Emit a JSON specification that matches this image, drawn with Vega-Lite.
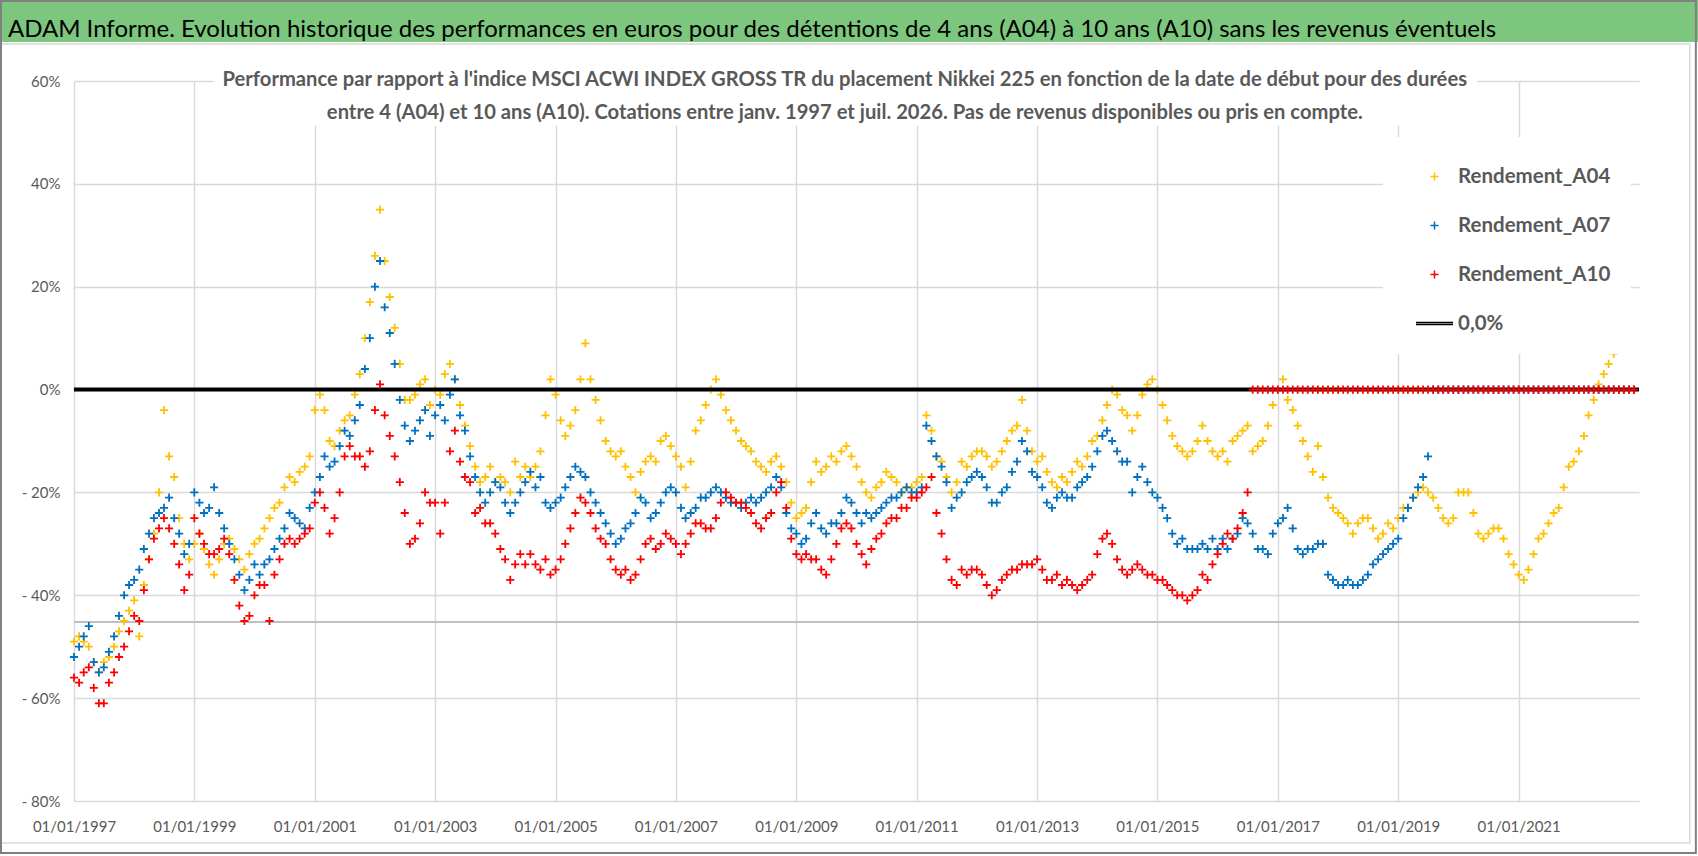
{
  "$schema": "https://vega.github.io/schema/vega-lite/v6.json",
  "description": "Performance relative Nikkei 225 vs MSCI ACWI, détentions 4, 7 et 10 ans",
  "width": 1565,
  "height": 720,
  "autosize": {"type": "none"},
  "padding": {"left": 74, "top": 81, "right": 59, "bottom": 55},
  "background": "white",
  "config": {
    "font": "Lato",
    "view": {"stroke": null},
    "axis": {
      "title": null,
      "grid": true,
      "gridColor": "#D9D9D9",
      "gridWidth": 1.5,
      "domain": false,
      "ticks": false,
      "labelColor": "#595959",
      "labelFont": "Lato",
      "labelFontSize": 15,
      "labelOverlap": false
    },
    "axisX": {
      "labelPadding": 18,
      "labelAlign": "center",
      "labelBaseline": "top",
      "labelExpr": "utcFormat(datum.value, '%d/%m/%Y')"
    },
    "axisY": {
      "labelPadding": 14,
      "labelExpr": "datum.value < 0 ? '- ' + format(-datum.value, 'd') + '%' : format(datum.value, 'd') + '%'"
    },
    "legend": {
      "orient": "none",
      "legendX": 1309,
      "legendY": 56,
      "fillColor": "white",
      "padding": 20,
      "symbolSize": 1369,
      "symbolOffset": 12,
      "labelOffset": 4,
      "rowPadding": 19,
      "labelFont": "Lato",
      "labelFontSize": 20.5,
      "labelFontWeight": "bold",
      "labelColor": "#595959",
      "labelLimit": 400
    }
  },
  "data": {
    "values": [
      {"date": "1997-01", "A04": -49, "A07": -52, "A10": -56},
      {"date": "1997-02", "A04": -48, "A07": -50, "A10": -57},
      {"date": "1997-03", "A04": -49, "A07": -48, "A10": -55},
      {"date": "1997-04", "A04": -50, "A07": -46, "A10": -54},
      {"date": "1997-05", "A04": -53, "A07": -53, "A10": -58},
      {"date": "1997-06", "A04": -55, "A07": -55, "A10": -61},
      {"date": "1997-07", "A04": -53, "A07": -54, "A10": -61},
      {"date": "1997-08", "A04": -52, "A07": -51, "A10": -57},
      {"date": "1997-09", "A04": -50, "A07": -48, "A10": -55},
      {"date": "1997-10", "A04": -47, "A07": -44, "A10": -52},
      {"date": "1997-11", "A04": -45, "A07": -40, "A10": -50},
      {"date": "1997-12", "A04": -43, "A07": -38, "A10": -47},
      {"date": "1998-01", "A04": -41, "A07": -37, "A10": -44},
      {"date": "1998-02", "A04": -48, "A07": -35, "A10": -45},
      {"date": "1998-03", "A04": -38, "A07": -31, "A10": -39},
      {"date": "1998-04", "A04": -33, "A07": -28, "A10": -33},
      {"date": "1998-05", "A04": -28, "A07": -25, "A10": -29},
      {"date": "1998-06", "A04": -20, "A07": -24, "A10": -27},
      {"date": "1998-07", "A04": -4, "A07": -23, "A10": -25},
      {"date": "1998-08", "A04": -13, "A07": -21, "A10": -27},
      {"date": "1998-09", "A04": -17, "A07": -25, "A10": -30},
      {"date": "1998-10", "A04": -25, "A07": -28, "A10": -34},
      {"date": "1998-11", "A04": -30, "A07": -32, "A10": -39},
      {"date": "1998-12", "A04": -33, "A07": -30, "A10": -36},
      {"date": "1999-01", "A04": -30, "A07": -20, "A10": -25},
      {"date": "1999-02", "A04": -28, "A07": -22, "A10": -28},
      {"date": "1999-03", "A04": -31, "A07": -24, "A10": -30},
      {"date": "1999-04", "A04": -34, "A07": -23, "A10": -32},
      {"date": "1999-05", "A04": -36, "A07": -19, "A10": -32},
      {"date": "1999-06", "A04": -33, "A07": -24, "A10": -31},
      {"date": "1999-07", "A04": -30, "A07": -27, "A10": -29},
      {"date": "1999-08", "A04": -29, "A07": -30, "A10": -32},
      {"date": "1999-09", "A04": -31, "A07": -33, "A10": -37},
      {"date": "1999-10", "A04": -33, "A07": -36, "A10": -42},
      {"date": "1999-11", "A04": -35, "A07": -39, "A10": -45},
      {"date": "1999-12", "A04": -32, "A07": -37, "A10": -44},
      {"date": "2000-01", "A04": -30, "A07": -34, "A10": -40},
      {"date": "2000-02", "A04": -29, "A07": -36, "A10": -38},
      {"date": "2000-03", "A04": -27, "A07": -34, "A10": -38},
      {"date": "2000-04", "A04": -25, "A07": -33, "A10": -45},
      {"date": "2000-05", "A04": -23, "A07": -31, "A10": -36},
      {"date": "2000-06", "A04": -22, "A07": -29, "A10": -33},
      {"date": "2000-07", "A04": -19, "A07": -27, "A10": -30},
      {"date": "2000-08", "A04": -17, "A07": -24, "A10": -29},
      {"date": "2000-09", "A04": -18, "A07": -25, "A10": -30},
      {"date": "2000-10", "A04": -16, "A07": -26, "A10": -29},
      {"date": "2000-11", "A04": -15, "A07": -27, "A10": -28},
      {"date": "2000-12", "A04": -13, "A07": -23, "A10": -27},
      {"date": "2001-01", "A04": -4, "A07": -20, "A10": -22},
      {"date": "2001-02", "A04": -1, "A07": -17, "A10": -20},
      {"date": "2001-03", "A04": -4, "A07": -13, "A10": -23},
      {"date": "2001-04", "A04": -10, "A07": -15, "A10": -28},
      {"date": "2001-05", "A04": -11, "A07": -14, "A10": -25},
      {"date": "2001-06", "A04": -8, "A07": -11, "A10": -20},
      {"date": "2001-07", "A04": -6, "A07": -8, "A10": -13},
      {"date": "2001-08", "A04": -5, "A07": -9, "A10": -11},
      {"date": "2001-09", "A04": -1, "A07": -6, "A10": -13},
      {"date": "2001-10", "A04": 3, "A07": -3, "A10": -13},
      {"date": "2001-11", "A04": 10, "A07": 4, "A10": -15},
      {"date": "2001-12", "A04": 17, "A07": 10, "A10": -12},
      {"date": "2002-01", "A04": 26, "A07": 20, "A10": -4},
      {"date": "2002-02", "A04": 35, "A07": 25, "A10": 1},
      {"date": "2002-03", "A04": 25, "A07": 16, "A10": -5},
      {"date": "2002-04", "A04": 18, "A07": 11, "A10": -9},
      {"date": "2002-05", "A04": 12, "A07": 5, "A10": -13},
      {"date": "2002-06", "A04": 5, "A07": -2, "A10": -18},
      {"date": "2002-07", "A04": -2, "A07": -7, "A10": -24},
      {"date": "2002-08", "A04": -2, "A07": -10, "A10": -30},
      {"date": "2002-09", "A04": -1, "A07": -8, "A10": -29},
      {"date": "2002-10", "A04": 1, "A07": -6, "A10": -26},
      {"date": "2002-11", "A04": 2, "A07": -4, "A10": -20},
      {"date": "2002-12", "A04": -3, "A07": -9, "A10": -22},
      {"date": "2003-01", "A04": 0, "A07": -5, "A10": -22},
      {"date": "2003-02", "A04": -1, "A07": -3, "A10": -28},
      {"date": "2003-03", "A04": 3, "A07": -6, "A10": -22},
      {"date": "2003-04", "A04": 5, "A07": -1, "A10": -12},
      {"date": "2003-05", "A04": 2, "A07": 2, "A10": -8},
      {"date": "2003-06", "A04": -3, "A07": -5, "A10": -14},
      {"date": "2003-07", "A04": -7, "A07": -8, "A10": -17},
      {"date": "2003-08", "A04": -11, "A07": -13, "A10": -18},
      {"date": "2003-09", "A04": -15, "A07": -17, "A10": -24},
      {"date": "2003-10", "A04": -18, "A07": -20, "A10": -23},
      {"date": "2003-11", "A04": -17, "A07": -22, "A10": -26},
      {"date": "2003-12", "A04": -15, "A07": -20, "A10": -26},
      {"date": "2004-01", "A04": -18, "A07": -18, "A10": -28},
      {"date": "2004-02", "A04": -17, "A07": -19, "A10": -31},
      {"date": "2004-03", "A04": -18, "A07": -22, "A10": -33},
      {"date": "2004-04", "A04": -20, "A07": -24, "A10": -37},
      {"date": "2004-05", "A04": -14, "A07": -22, "A10": -34},
      {"date": "2004-06", "A04": -17, "A07": -20, "A10": -32},
      {"date": "2004-07", "A04": -15, "A07": -18, "A10": -34},
      {"date": "2004-08", "A04": -17, "A07": -16, "A10": -32},
      {"date": "2004-09", "A04": -15, "A07": -19, "A10": -34},
      {"date": "2004-10", "A04": -12, "A07": -17, "A10": -35},
      {"date": "2004-11", "A04": -5, "A07": -22, "A10": -33},
      {"date": "2004-12", "A04": 2, "A07": -23, "A10": -36},
      {"date": "2005-01", "A04": -1, "A07": -22, "A10": -35},
      {"date": "2005-02", "A04": -6, "A07": -21, "A10": -33},
      {"date": "2005-03", "A04": -9, "A07": -19, "A10": -30},
      {"date": "2005-04", "A04": -7, "A07": -17, "A10": -27},
      {"date": "2005-05", "A04": -4, "A07": -15, "A10": -24},
      {"date": "2005-06", "A04": 2, "A07": -16, "A10": -21},
      {"date": "2005-07", "A04": 9, "A07": -17, "A10": -22},
      {"date": "2005-08", "A04": 2, "A07": -20, "A10": -24},
      {"date": "2005-09", "A04": -2, "A07": -22, "A10": -27},
      {"date": "2005-10", "A04": -6, "A07": -24, "A10": -29},
      {"date": "2005-11", "A04": -10, "A07": -26, "A10": -30},
      {"date": "2005-12", "A04": -12, "A07": -28, "A10": -33},
      {"date": "2006-01", "A04": -13, "A07": -30, "A10": -35},
      {"date": "2006-02", "A04": -12, "A07": -29, "A10": -36},
      {"date": "2006-03", "A04": -15, "A07": -27, "A10": -35},
      {"date": "2006-04", "A04": -17, "A07": -26, "A10": -37},
      {"date": "2006-05", "A04": -20, "A07": -24, "A10": -36},
      {"date": "2006-06", "A04": -16, "A07": -21, "A10": -33},
      {"date": "2006-07", "A04": -14, "A07": -22, "A10": -30},
      {"date": "2006-08", "A04": -13, "A07": -25, "A10": -29},
      {"date": "2006-09", "A04": -14, "A07": -24, "A10": -31},
      {"date": "2006-10", "A04": -10, "A07": -22, "A10": -30},
      {"date": "2006-11", "A04": -9, "A07": -20, "A10": -28},
      {"date": "2006-12", "A04": -11, "A07": -19, "A10": -29},
      {"date": "2007-01", "A04": -13, "A07": -20, "A10": -30},
      {"date": "2007-02", "A04": -15, "A07": -23, "A10": -32},
      {"date": "2007-03", "A04": -19, "A07": -25, "A10": -30},
      {"date": "2007-04", "A04": -14, "A07": -24, "A10": -28},
      {"date": "2007-05", "A04": -8, "A07": -23, "A10": -26},
      {"date": "2007-06", "A04": -6, "A07": -21, "A10": -26},
      {"date": "2007-07", "A04": -3, "A07": -21, "A10": -27},
      {"date": "2007-08", "A04": 0, "A07": -20, "A10": -27},
      {"date": "2007-09", "A04": 2, "A07": -19, "A10": -25},
      {"date": "2007-10", "A04": -1, "A07": -20, "A10": -22},
      {"date": "2007-11", "A04": -4, "A07": -21, "A10": -20},
      {"date": "2007-12", "A04": -6, "A07": -22, "A10": -21},
      {"date": "2008-01", "A04": -8, "A07": -22, "A10": -22},
      {"date": "2008-02", "A04": -10, "A07": -23, "A10": -22},
      {"date": "2008-03", "A04": -11, "A07": -22, "A10": -23},
      {"date": "2008-04", "A04": -12, "A07": -21, "A10": -24},
      {"date": "2008-05", "A04": -14, "A07": -22, "A10": -26},
      {"date": "2008-06", "A04": -15, "A07": -21, "A10": -27},
      {"date": "2008-07", "A04": -16, "A07": -20, "A10": -25},
      {"date": "2008-08", "A04": -14, "A07": -19, "A10": -24},
      {"date": "2008-09", "A04": -13, "A07": -17, "A10": -20},
      {"date": "2008-10", "A04": -15, "A07": -19, "A10": -18},
      {"date": "2008-11", "A04": -18, "A07": -24, "A10": -23},
      {"date": "2008-12", "A04": -22, "A07": -27, "A10": -29},
      {"date": "2009-01", "A04": -25, "A07": -28, "A10": -32},
      {"date": "2009-02", "A04": -24, "A07": -30, "A10": -33},
      {"date": "2009-03", "A04": -23, "A07": -29, "A10": -32},
      {"date": "2009-04", "A04": -18, "A07": -26, "A10": -33},
      {"date": "2009-05", "A04": -14, "A07": -24, "A10": -33},
      {"date": "2009-06", "A04": -16, "A07": -27, "A10": -35},
      {"date": "2009-07", "A04": -15, "A07": -28, "A10": -36},
      {"date": "2009-08", "A04": -13, "A07": -26, "A10": -33},
      {"date": "2009-09", "A04": -14, "A07": -26, "A10": -30},
      {"date": "2009-10", "A04": -12, "A07": -24, "A10": -27},
      {"date": "2009-11", "A04": -11, "A07": -21, "A10": -26},
      {"date": "2009-12", "A04": -13, "A07": -22, "A10": -27},
      {"date": "2010-01", "A04": -15, "A07": -24, "A10": -30},
      {"date": "2010-02", "A04": -18, "A07": -26, "A10": -32},
      {"date": "2010-03", "A04": -20, "A07": -24, "A10": -34},
      {"date": "2010-04", "A04": -21, "A07": -25, "A10": -31},
      {"date": "2010-05", "A04": -19, "A07": -24, "A10": -29},
      {"date": "2010-06", "A04": -18, "A07": -23, "A10": -28},
      {"date": "2010-07", "A04": -16, "A07": -22, "A10": -26},
      {"date": "2010-08", "A04": -17, "A07": -21, "A10": -25},
      {"date": "2010-09", "A04": -18, "A07": -21, "A10": -25},
      {"date": "2010-10", "A04": -20, "A07": -20, "A10": -23},
      {"date": "2010-11", "A04": -19, "A07": -19, "A10": -23},
      {"date": "2010-12", "A04": -19, "A07": -20, "A10": -21},
      {"date": "2011-01", "A04": -18, "A07": -20, "A10": -21},
      {"date": "2011-02", "A04": -17, "A07": -19, "A10": -20},
      {"date": "2011-03", "A04": -5, "A07": -7, "A10": -19},
      {"date": "2011-04", "A04": -8, "A07": -10, "A10": -17},
      {"date": "2011-05", "A04": -13, "A07": -13, "A10": -24},
      {"date": "2011-06", "A04": -14, "A07": -15, "A10": -28},
      {"date": "2011-07", "A04": -17, "A07": -18, "A10": -33},
      {"date": "2011-08", "A04": -20, "A07": -23, "A10": -37},
      {"date": "2011-09", "A04": -18, "A07": -21, "A10": -38},
      {"date": "2011-10", "A04": -14, "A07": -20, "A10": -35},
      {"date": "2011-11", "A04": -15, "A07": -18, "A10": -36},
      {"date": "2011-12", "A04": -13, "A07": -17, "A10": -35},
      {"date": "2012-01", "A04": -12, "A07": -16, "A10": -35},
      {"date": "2012-02", "A04": -12, "A07": -17, "A10": -36},
      {"date": "2012-03", "A04": -13, "A07": -19, "A10": -38},
      {"date": "2012-04", "A04": -15, "A07": -22, "A10": -40},
      {"date": "2012-05", "A04": -14, "A07": -22, "A10": -39},
      {"date": "2012-06", "A04": -12, "A07": -20, "A10": -37},
      {"date": "2012-07", "A04": -10, "A07": -19, "A10": -36},
      {"date": "2012-08", "A04": -8, "A07": -16, "A10": -35},
      {"date": "2012-09", "A04": -7, "A07": -14, "A10": -35},
      {"date": "2012-10", "A04": -2, "A07": -10, "A10": -34},
      {"date": "2012-11", "A04": -8, "A07": -12, "A10": -34},
      {"date": "2012-12", "A04": -12, "A07": -16, "A10": -34},
      {"date": "2013-01", "A04": -14, "A07": -17, "A10": -33},
      {"date": "2013-02", "A04": -13, "A07": -19, "A10": -35},
      {"date": "2013-03", "A04": -16, "A07": -22, "A10": -37},
      {"date": "2013-04", "A04": -18, "A07": -23, "A10": -37},
      {"date": "2013-05", "A04": -19, "A07": -21, "A10": -36},
      {"date": "2013-06", "A04": -17, "A07": -20, "A10": -38},
      {"date": "2013-07", "A04": -18, "A07": -21, "A10": -37},
      {"date": "2013-08", "A04": -16, "A07": -21, "A10": -38},
      {"date": "2013-09", "A04": -14, "A07": -19, "A10": -39},
      {"date": "2013-10", "A04": -15, "A07": -18, "A10": -38},
      {"date": "2013-11", "A04": -13, "A07": -17, "A10": -37},
      {"date": "2013-12", "A04": -10, "A07": -15, "A10": -36},
      {"date": "2014-01", "A04": -9, "A07": -12, "A10": -32},
      {"date": "2014-02", "A04": -6, "A07": -9, "A10": -29},
      {"date": "2014-03", "A04": -3, "A07": -8, "A10": -28},
      {"date": "2014-04", "A04": 0, "A07": -10, "A10": -30},
      {"date": "2014-05", "A04": -1, "A07": -12, "A10": -33},
      {"date": "2014-06", "A04": -4, "A07": -14, "A10": -35},
      {"date": "2014-07", "A04": -5, "A07": -14, "A10": -36},
      {"date": "2014-08", "A04": -8, "A07": -20, "A10": -35},
      {"date": "2014-09", "A04": -5, "A07": -17, "A10": -34},
      {"date": "2014-10", "A04": -1, "A07": -15, "A10": -35},
      {"date": "2014-11", "A04": 1, "A07": -18, "A10": -36},
      {"date": "2014-12", "A04": 2, "A07": -20, "A10": -36},
      {"date": "2015-01", "A04": 0, "A07": -21, "A10": -37},
      {"date": "2015-02", "A04": -3, "A07": -23, "A10": -37},
      {"date": "2015-03", "A04": -6, "A07": -25, "A10": -38},
      {"date": "2015-04", "A04": -9, "A07": -28, "A10": -39},
      {"date": "2015-05", "A04": -11, "A07": -30, "A10": -40},
      {"date": "2015-06", "A04": -12, "A07": -29, "A10": -40},
      {"date": "2015-07", "A04": -13, "A07": -31, "A10": -41},
      {"date": "2015-08", "A04": -12, "A07": -31, "A10": -40},
      {"date": "2015-09", "A04": -10, "A07": -31, "A10": -39},
      {"date": "2015-10", "A04": -7, "A07": -30, "A10": -36},
      {"date": "2015-11", "A04": -10, "A07": -31, "A10": -37},
      {"date": "2015-12", "A04": -12, "A07": -29, "A10": -34},
      {"date": "2016-01", "A04": -13, "A07": -31, "A10": -32},
      {"date": "2016-02", "A04": -12, "A07": -29, "A10": -30},
      {"date": "2016-03", "A04": -14, "A07": -31, "A10": -28},
      {"date": "2016-04", "A04": -10, "A07": -29, "A10": -29},
      {"date": "2016-05", "A04": -9, "A07": -28, "A10": -27},
      {"date": "2016-06", "A04": -8, "A07": -25, "A10": -24},
      {"date": "2016-07", "A04": -7, "A07": -26, "A10": -20},
      {"date": "2016-08", "A04": -12, "A07": -28, "A10": 0},
      {"date": "2016-09", "A04": -11, "A07": -31, "A10": 0},
      {"date": "2016-10", "A04": -10, "A07": -31, "A10": 0},
      {"date": "2016-11", "A04": -7, "A07": -32, "A10": 0},
      {"date": "2016-12", "A04": -3, "A07": -28, "A10": 0},
      {"date": "2017-01", "A04": 0, "A07": -26, "A10": 0},
      {"date": "2017-02", "A04": 2, "A07": -25, "A10": 0},
      {"date": "2017-03", "A04": -2, "A07": -23, "A10": 0},
      {"date": "2017-04", "A04": -4, "A07": -27, "A10": 0},
      {"date": "2017-05", "A04": -7, "A07": -31, "A10": 0},
      {"date": "2017-06", "A04": -10, "A07": -32, "A10": 0},
      {"date": "2017-07", "A04": -13, "A07": -31, "A10": 0},
      {"date": "2017-08", "A04": -16, "A07": -31, "A10": 0},
      {"date": "2017-09", "A04": -11, "A07": -30, "A10": 0},
      {"date": "2017-10", "A04": -17, "A07": -30, "A10": 0},
      {"date": "2017-11", "A04": -21, "A07": -36, "A10": 0},
      {"date": "2017-12", "A04": -23, "A07": -37, "A10": 0},
      {"date": "2018-01", "A04": -24, "A07": -38, "A10": 0},
      {"date": "2018-02", "A04": -25, "A07": -38, "A10": 0},
      {"date": "2018-03", "A04": -26, "A07": -37, "A10": 0},
      {"date": "2018-04", "A04": -28, "A07": -38, "A10": 0},
      {"date": "2018-05", "A04": -26, "A07": -38, "A10": 0},
      {"date": "2018-06", "A04": -25, "A07": -37, "A10": 0},
      {"date": "2018-07", "A04": -25, "A07": -36, "A10": 0},
      {"date": "2018-08", "A04": -27, "A07": -34, "A10": 0},
      {"date": "2018-09", "A04": -29, "A07": -33, "A10": 0},
      {"date": "2018-10", "A04": -28, "A07": -32, "A10": 0},
      {"date": "2018-11", "A04": -26, "A07": -31, "A10": 0},
      {"date": "2018-12", "A04": -27, "A07": -30, "A10": 0},
      {"date": "2019-01", "A04": -25, "A07": -29, "A10": 0},
      {"date": "2019-02", "A04": -23, "A07": -25, "A10": 0},
      {"date": "2019-03", "A04": -23, "A07": -23, "A10": 0},
      {"date": "2019-04", "A04": -21, "A07": -21, "A10": 0},
      {"date": "2019-05", "A04": -20, "A07": -19, "A10": 0},
      {"date": "2019-06", "A04": -19, "A07": -17, "A10": 0},
      {"date": "2019-07", "A04": -20, "A07": -13, "A10": 0},
      {"date": "2019-08", "A04": -21, "A07": 0, "A10": 0},
      {"date": "2019-09", "A04": -23, "A07": 0, "A10": 0},
      {"date": "2019-10", "A04": -25, "A07": 0, "A10": 0},
      {"date": "2019-11", "A04": -26, "A07": 0, "A10": 0},
      {"date": "2019-12", "A04": -25, "A07": 0, "A10": 0},
      {"date": "2020-01", "A04": -20, "A07": 0, "A10": 0},
      {"date": "2020-02", "A04": -20, "A07": 0, "A10": 0},
      {"date": "2020-03", "A04": -20, "A07": 0, "A10": 0},
      {"date": "2020-04", "A04": -24, "A07": 0, "A10": 0},
      {"date": "2020-05", "A04": -28, "A07": 0, "A10": 0},
      {"date": "2020-06", "A04": -29, "A07": 0, "A10": 0},
      {"date": "2020-07", "A04": -28, "A07": 0, "A10": 0},
      {"date": "2020-08", "A04": -27, "A07": 0, "A10": 0},
      {"date": "2020-09", "A04": -27, "A07": 0, "A10": 0},
      {"date": "2020-10", "A04": -29, "A07": 0, "A10": 0},
      {"date": "2020-11", "A04": -32, "A07": 0, "A10": 0},
      {"date": "2020-12", "A04": -34, "A07": 0, "A10": 0},
      {"date": "2021-01", "A04": -36, "A07": 0, "A10": 0},
      {"date": "2021-02", "A04": -37, "A07": 0, "A10": 0},
      {"date": "2021-03", "A04": -35, "A07": 0, "A10": 0},
      {"date": "2021-04", "A04": -32, "A07": 0, "A10": 0},
      {"date": "2021-05", "A04": -29, "A07": 0, "A10": 0},
      {"date": "2021-06", "A04": -28, "A07": 0, "A10": 0},
      {"date": "2021-07", "A04": -26, "A07": 0, "A10": 0},
      {"date": "2021-08", "A04": -24, "A07": 0, "A10": 0},
      {"date": "2021-09", "A04": -23, "A07": 0, "A10": 0},
      {"date": "2021-10", "A04": -19, "A07": 0, "A10": 0},
      {"date": "2021-11", "A04": -15, "A07": 0, "A10": 0},
      {"date": "2021-12", "A04": -14, "A07": 0, "A10": 0},
      {"date": "2022-01", "A04": -12, "A07": 0, "A10": 0},
      {"date": "2022-02", "A04": -9, "A07": 0, "A10": 0},
      {"date": "2022-03", "A04": -5, "A07": 0, "A10": 0},
      {"date": "2022-04", "A04": -2, "A07": 0, "A10": 0},
      {"date": "2022-05", "A04": 1, "A07": 0, "A10": 0},
      {"date": "2022-06", "A04": 3, "A07": 0, "A10": 0},
      {"date": "2022-07", "A04": 5, "A07": 0, "A10": 0},
      {"date": "2022-08", "A04": 7, "A07": 0, "A10": 0},
      {"date": "2022-09", "A04": 0, "A07": 0, "A10": 0},
      {"date": "2022-10", "A04": 0, "A07": 0, "A10": 0},
      {"date": "2022-11", "A04": 0, "A07": 0, "A10": 0},
      {"date": "2022-12", "A04": 0, "A07": 0, "A10": 0}
    ]
  },
  "layer": [
    {
      "data": {"values": [{}]},
      "mark": {"type": "rect", "color": "#7DC67E"},
      "encoding": {
        "x": {"datum": {"year": 1995, "month": 10, "date": 1, "utc": true}, "type": "temporal"},
        "x2": {"datum": {"year": 2024, "month": 1, "date": 1, "utc": true}},
        "y": {"datum": 67.6, "type": "quantitative"},
        "y2": {"datum": 76}
      }
    },
    {
      "data": {"values": [{}]},
      "mark": {"type": "rect", "fill": null, "filled": false, "stroke": "#D9D9D9", "strokeWidth": 1.5},
      "encoding": {
        "x": {"datum": {"year": 1995, "month": 10, "date": 16, "utc": true}, "type": "temporal"},
        "x2": {"datum": {"year": 2023, "month": 11, "date": 5, "utc": true}},
        "y": {"datum": 67.19, "type": "quantitative"},
        "y2": {"datum": -88.17}
      }
    },
    {
      "data": {"values": [{}]},
      "mark": {"type": "rect", "fill": null, "filled": false, "stroke": "#808080", "strokeWidth": 2},
      "encoding": {
        "x": {"datum": {"year": 1995, "month": 10, "date": 16, "utc": true}, "type": "temporal"},
        "x2": {"datum": {"year": 2023, "month": 12, "date": 12, "utc": true}},
        "y": {"datum": 75.56, "type": "quantitative"},
        "y2": {"datum": -90.1}
      }
    },
    {
      "data": {"values": [{}]},
      "mark": {"type": "text", "align": "left", "baseline": "middle", "font": "Lato", "fontSize": 24, "color": "black",
        "text": "ADAM Informe. Evolution historique des performances en euros pour des détentions de 4 ans (A04) à 10 ans (A10) sans les revenus éventuels"},
      "encoding": {
        "x": {"datum": {"year": 1995, "month": 11, "date": 27, "utc": true}, "type": "temporal"},
        "y": {"datum": 69.9, "type": "quantitative"}
      }
    },
    {
      "data": {"values": [{}]},
      "mark": {"type": "rect", "color": "white"},
      "encoding": {
        "x": {"datum": {"year": 1999, "month": 4, "date": 30, "utc": true}, "type": "temporal"},
        "x2": {"datum": {"year": 2020, "month": 4, "date": 22, "utc": true}},
        "y": {"datum": 51.3, "type": "quantitative"},
        "y2": {"datum": 62.5}
      }
    },
    {
      "data": {"values": [{}]},
      "mark": {"type": "text", "align": "center", "baseline": "middle", "font": "Lato", "fontSize": 20.2, "fontWeight": "bold", "color": "#595959", "lineHeight": 33,
        "text": ["Performance par rapport à l'indice MSCI ACWI INDEX GROSS TR  du placement Nikkei 225 en fonction de la date de début pour des durées", "entre 4 (A04) et 10 ans (A10). Cotations entre janv. 1997 et juil. 2026. Pas de revenus disponibles ou pris en compte."]},
      "encoding": {
        "x": {"datum": {"year": 2009, "month": 10, "date": 22, "utc": true}, "type": "temporal"},
        "y": {"datum": 60.2, "type": "quantitative"}
      }
    },
    {
      "data": {"values": [{}]},
      "mark": {"type": "rule", "color": "#BFBFBF", "strokeWidth": 2},
      "encoding": {"y": {"datum": -45.2, "type": "quantitative"}}
    },
    {
      "mark": {"type": "point", "filled": false, "size": 1369, "strokeWidth": 1.8, "opacity": 1},
      "encoding": {
        "x": {
          "field": "date", "type": "temporal",
          "scale": {"type": "utc", "nice": false, "domain": [{"year": 1997, "month": 1, "date": 1, "utc": true}, {"year": 2023, "month": 1, "date": 1, "utc": true}]},
          "axis": {"values": [
            {"year": 1997, "month": 1, "date": 1, "utc": true}, {"year": 1999, "month": 1, "date": 1, "utc": true},
            {"year": 2001, "month": 1, "date": 1, "utc": true}, {"year": 2003, "month": 1, "date": 1, "utc": true},
            {"year": 2005, "month": 1, "date": 1, "utc": true}, {"year": 2007, "month": 1, "date": 1, "utc": true},
            {"year": 2009, "month": 1, "date": 1, "utc": true}, {"year": 2011, "month": 1, "date": 1, "utc": true},
            {"year": 2013, "month": 1, "date": 1, "utc": true}, {"year": 2015, "month": 1, "date": 1, "utc": true},
            {"year": 2017, "month": 1, "date": 1, "utc": true}, {"year": 2019, "month": 1, "date": 1, "utc": true},
            {"year": 2021, "month": 1, "date": 1, "utc": true}]}
        },
        "y": {
          "field": "A04", "type": "quantitative",
          "scale": {"domain": [-80, 60], "nice": false, "zero": false},
          "axis": {"values": [-80, -60, -40, -20, 0, 20, 40, 60]}
        },
        "color": {
          "datum": "Rendement_A04",
          "scale": {"domain": ["Rendement_A04", "Rendement_A07", "Rendement_A10", "0,0%"], "range": ["#FFC000", "#0070C0", "#FF0000", "#000000"]},
          "legend": {"title": null}
        },
        "shape": {
          "datum": "Rendement_A04",
          "scale": {"domain": ["Rendement_A04", "Rendement_A07", "Rendement_A10", "0,0%"], "range": ["M-0.22,0H0.22M0,-0.22V0.22", "M-0.22,0H0.22M0,-0.22V0.22", "M-0.22,0H0.22M0,-0.22V0.22", "M-1,-0.05H1M-1,0.05H1"]},
          "legend": {"title": null}
        }
      }
    },
    {
      "mark": {"type": "point", "filled": false, "size": 1369, "strokeWidth": 1.8, "opacity": 1},
      "encoding": {
        "x": {"field": "date", "type": "temporal"},
        "y": {"field": "A07", "type": "quantitative"},
        "color": {"datum": "Rendement_A07"},
        "shape": {"datum": "Rendement_A07"}
      }
    },
    {
      "data": {"values": [{}]},
      "mark": {"type": "rule", "color": "black", "strokeWidth": 4},
      "encoding": {"y": {"datum": 0, "type": "quantitative"}}
    },
    {
      "mark": {"type": "point", "filled": false, "size": 1369, "strokeWidth": 1.8, "opacity": 1},
      "encoding": {
        "x": {"field": "date", "type": "temporal"},
        "y": {"field": "A10", "type": "quantitative"},
        "color": {"datum": "Rendement_A10"},
        "shape": {"datum": "Rendement_A10"}
      }
    }
  ]
}
